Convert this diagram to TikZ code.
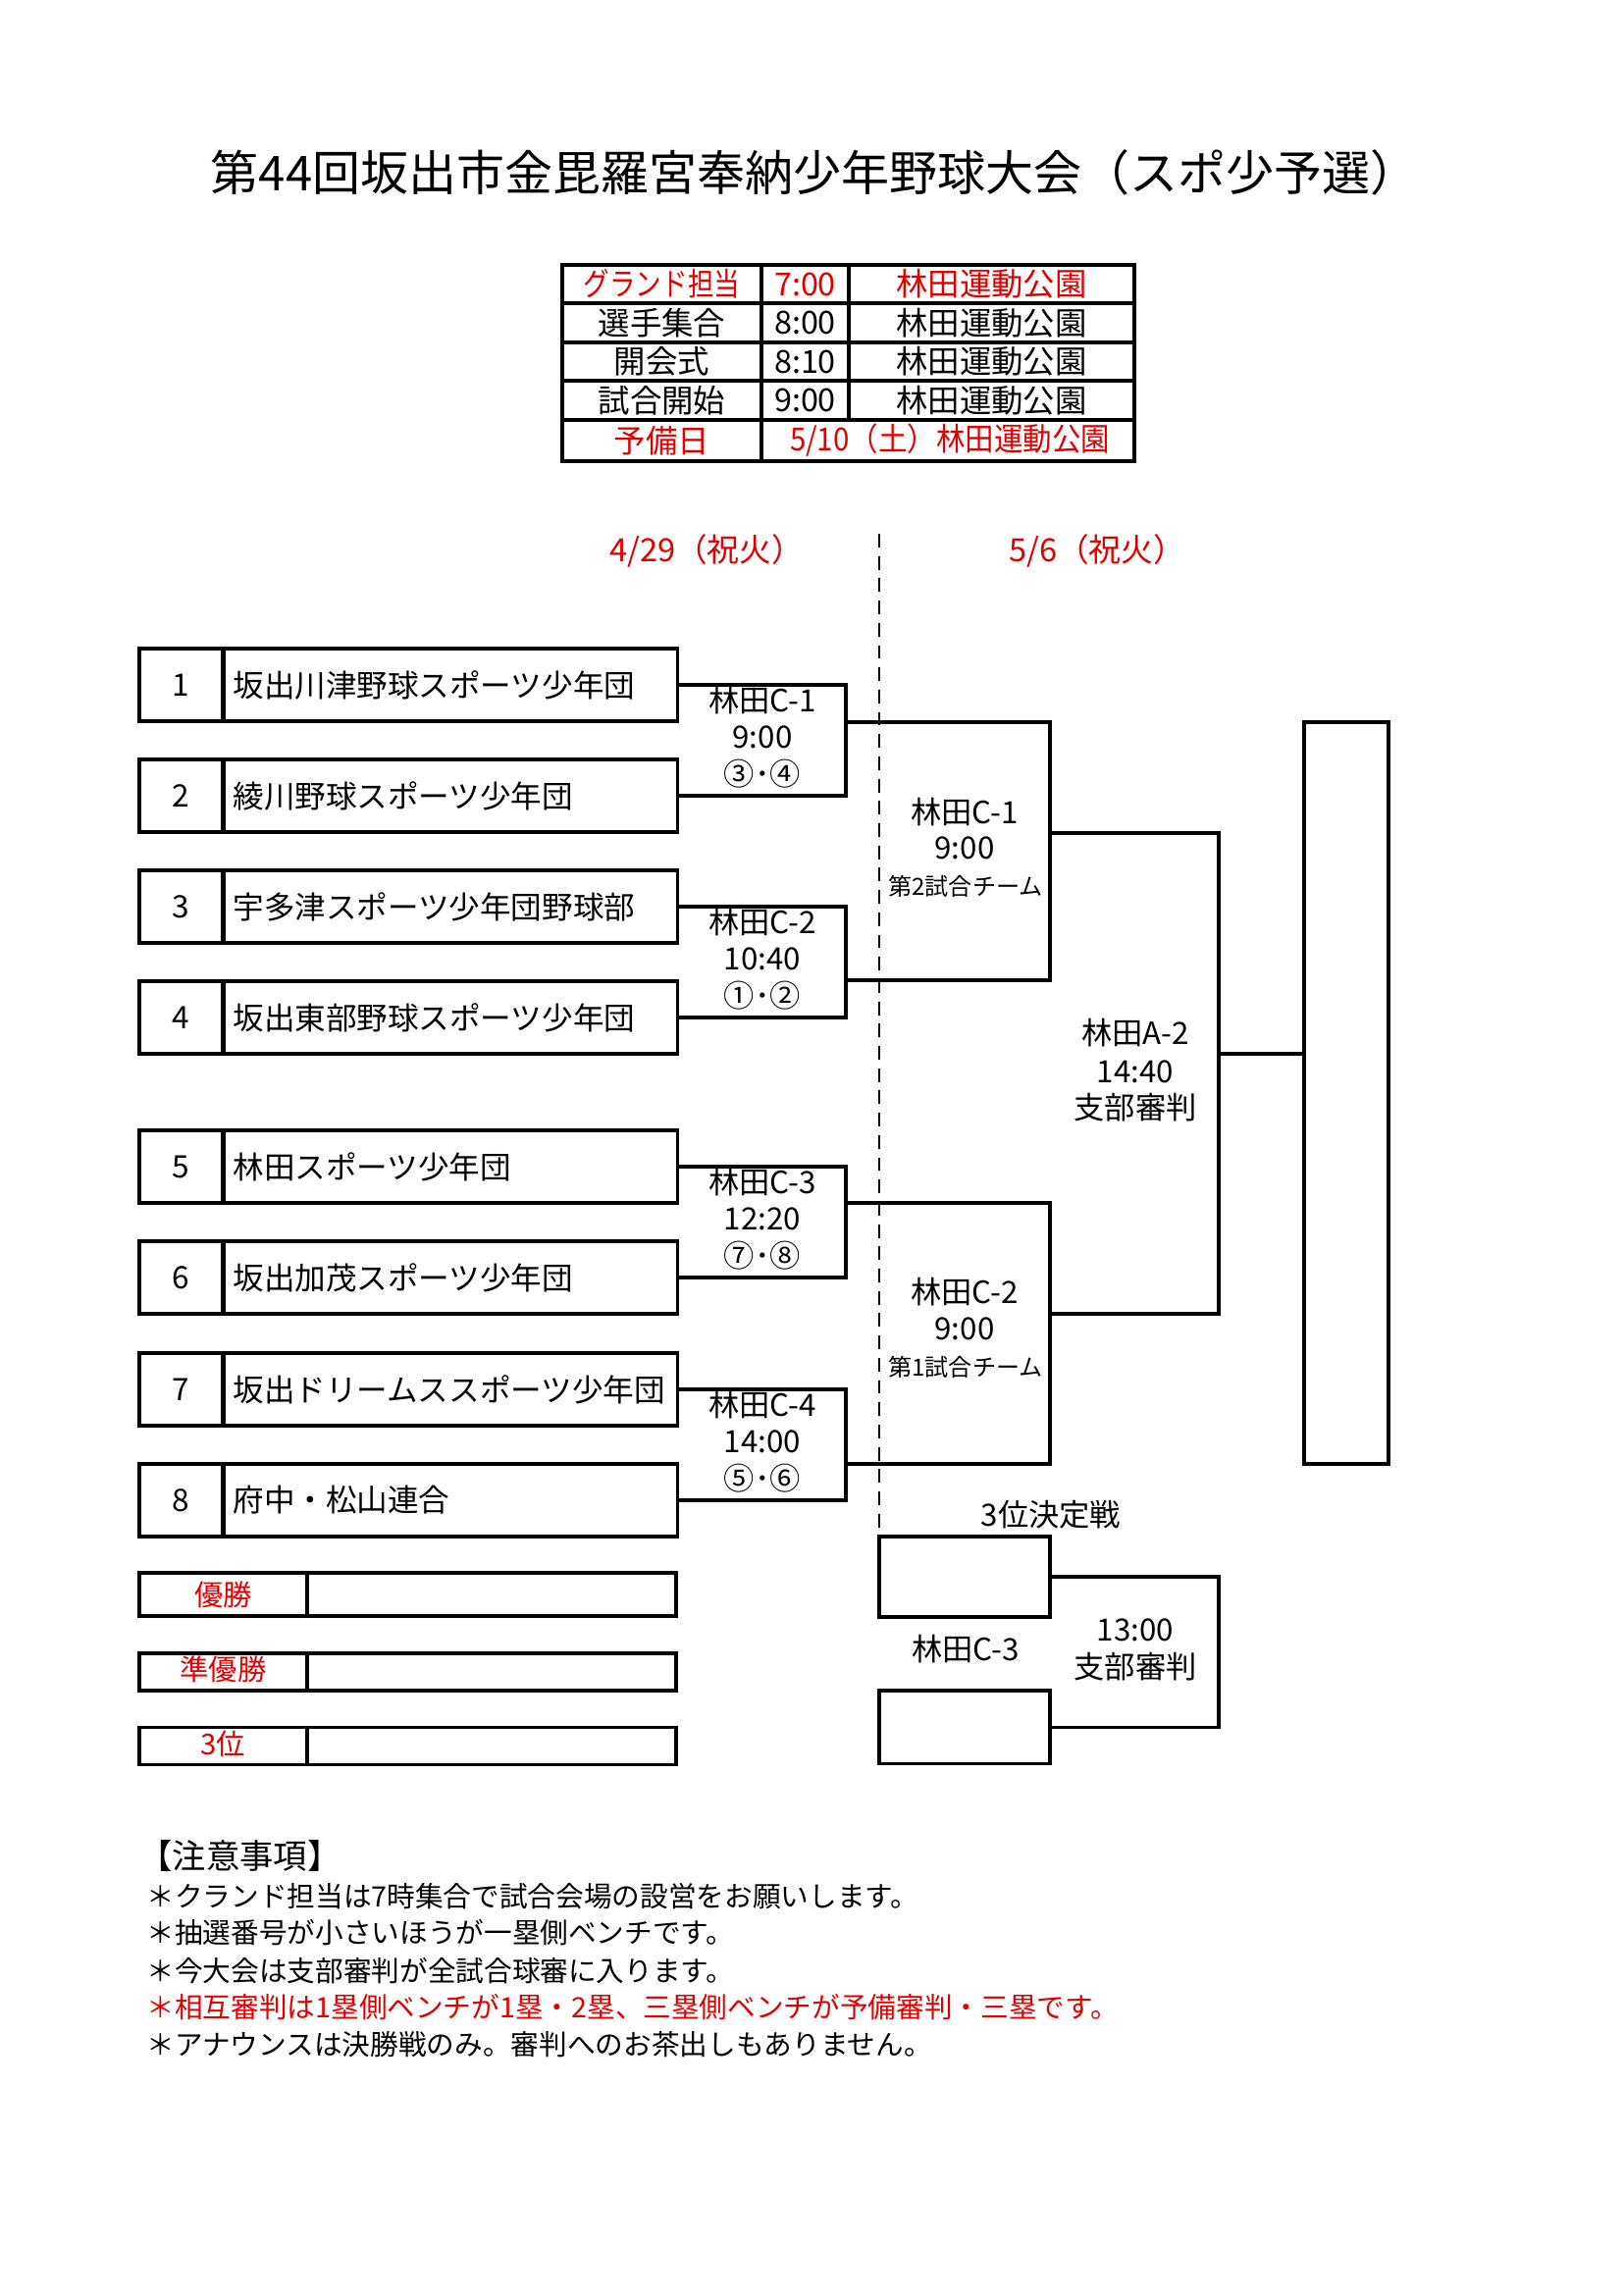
\documentclass[tikz,border=0pt]{standalone}
\usepackage{fontspec}
\usepackage{graphicx}
\newfontfamily\jpf{Noto Sans CJK JP}
\definecolor{jred}{RGB}{225,0,0}
\newlength\px
\setlength\px{0.12697mm}
\tikzset{
  fnt/.style={font=\jpf\fontsize{#1}{#1}\selectfont},
  boxline/.style={line width=1.1pt},
  titletext/.style={fnt=17.7pt, inner sep=0pt},
  tbltext/.style={fnt=11.7pt, inner sep=0pt},
  datetext/.style={fnt=11.8pt, inner sep=0pt, text=jred},
  numcell/.style={draw, boxline, fnt=11.4pt, minimum width=85\px, minimum height=74\px, inner sep=0pt},
  namecell/.style={draw, boxline, fnt=11.4pt, anchor=west, minimum height=74\px, text width=444\px, inner xsep=9\px, inner ysep=0pt, align=left},
  lbl/.style={fnt=11.3pt, inner sep=0pt},
  smalllbl/.style={fnt=8.7pt, inner sep=0pt},
  rescell/.style={draw, boxline, inner sep=0pt},
  restext/.style={fnt=10.6pt, text=jred, inner sep=0pt},
  emptybox/.style={draw, boxline, inner sep=0pt},
  notehead/.style={fnt=12.4pt, anchor=west, inner sep=0pt},
  notetext/.style={fnt=10.35pt, anchor=west, inner sep=0pt},
  dashline/.style={line width=0.8pt, dash pattern=on 5pt off 3.2pt},
}
\begin{document}
\begin{tikzpicture}[x=\px, y=-\px, line join=miter]
\fill[white] (0,0) rectangle (1654,2339);
\useasboundingbox (0,0) rectangle (1654,2339);

% Title
\node[titletext] (title) at (830,176) {第44回坂出市金毘羅宮奉納少年野球大会（スポ少予選）};

% Schedule table
\draw[boxline] (573,270) rectangle (1156,470);
\foreach \yy in {309,349,388,428} { \draw[boxline] (573,\yy) -- (1156,\yy); }
\draw[boxline] (776,270) -- (776,470);
\draw[boxline] (865,270) -- (865,428);
\node[tbltext, text=jred] (r1a) at (674.5,289.5) {\scalebox{0.82}[1]{グランド担当}};
\node[tbltext, text=jred] (r1b) at (820.5,289.5) {7:00};
\node[tbltext, text=jred] (r1c) at (1010.5,289.5) {林田運動公園};
\node[tbltext] (r2a) at (674.5,329) {選手集合};
\node[tbltext] (r2b) at (820.5,329) {8:00};
\node[tbltext] (r2c) at (1010.5,329) {林田運動公園};
\node[tbltext] (r3a) at (674.5,368.5) {開会式};
\node[tbltext] (r3b) at (820.5,368.5) {8:10};
\node[tbltext] (r3c) at (1010.5,368.5) {林田運動公園};
\node[tbltext] (r4a) at (674.5,408) {試合開始};
\node[tbltext] (r4b) at (820.5,408) {9:00};
\node[tbltext] (r4c) at (1010.5,408) {林田運動公園};
\node[tbltext, text=jred] (r5a) at (674.5,449) {予備日};
\node[tbltext, text=jred] (r5b) at (968,449) {\scalebox{0.91}[1]{5/10（土）林田運動公園}};

% Dates
\node[datetext] (d1) at (720,561) {4/29（祝火）};
\node[datetext] (d2) at (1118,561) {5/6（祝火）};

% Dashed divider
\coordinate (dtop) at (896,544);
\coordinate (dbot) at (896,1566);
\draw[dashline] (dtop) -- (dbot);

% Teams
\foreach \i/\yy/\nm in {1/698/坂出川津野球スポーツ少年団, 2/811/綾川野球スポーツ少年団, 3/924/宇多津スポーツ少年団野球部, 4/1037/坂出東部野球スポーツ少年団, 5/1189/林田スポーツ少年団, 6/1302/坂出加茂スポーツ少年団, 7/1416/坂出ドリームススポーツ少年団, 8/1529/府中・松山連合} {
  \node[numcell] (n\i) at (184.5,\yy) {\i};
  \node[namecell] (t\i) at (227,\yy) {\nm};
}

% Round 1 brackets
\coordinate (k1) at (862,750);
\coordinate (k2) at (862,980);
\coordinate (k3) at (862,1245);
\coordinate (k4) at (862,1472);
\draw[boxline] (t1.east) -| (k1) |- (t2.east);
\draw[boxline] (t3.east) -| (k2) |- (t4.east);
\draw[boxline] (t5.east) -| (k3) |- (t6.east);
\draw[boxline] (t7.east) -| (k4) |- (t8.east);

\node[lbl] (l1a) at (777,714) {林田C-1};
\node[lbl] (l1b) at (777,751) {9:00};
\node[lbl] (l1c) at (777,789) {③･④};
\node[lbl] (l2a) at (777,940) {林田C-2};
\node[lbl] (l2b) at (777,977) {10:40};
\node[lbl] (l2c) at (777,1015) {①･②};
\node[lbl] (l3a) at (777,1205) {林田C-3};
\node[lbl] (l3b) at (777,1242) {12:20};
\node[lbl] (l3c) at (777,1280) {⑦･⑧};
\node[lbl] (l4a) at (777,1432) {林田C-4};
\node[lbl] (l4b) at (777,1469) {14:00};
\node[lbl] (l4c) at (777,1507) {⑤･⑥};

% Round 2 boxes
\coordinate (s1a) at (862,736);
\coordinate (s1b) at (862,999);
\coordinate (s1c) at (1070,868);
\draw[boxline] (s1a) -| (s1c) |- (s1b);
\coordinate (s2a) at (862,1226);
\coordinate (s2b) at (862,1492);
\coordinate (s2c) at (1070,1359);
\draw[boxline] (s2a) -| (s2c) |- (s2b);

\node[lbl] (m1a) at (983,828) {林田C-1};
\node[lbl] (m1b) at (983,864) {9:00};
\node[smalllbl] (m1c) at (984,903) {第2試合チーム};
\node[lbl] (m2a) at (983,1317) {林田C-2};
\node[lbl] (m2b) at (983,1354) {9:00};
\node[smalllbl] (m2c) at (984,1393) {第1試合チーム};

% Final bracket
\coordinate (a1) at (1070,849);
\coordinate (a2) at (1070,1339);
\coordinate (ka) at (1242,1074);
\draw[boxline] (a1) -| (ka) |- (a2);
\node[emptybox, minimum width=86\px, minimum height=756\px] (final) at (1372,1114) {};
\draw[boxline] (ka) -- (final.west |- ka);

\node[lbl] (fa) at (1157,1053) {林田A-2};
\node[lbl] (fb) at (1157,1092) {14:40};
\node[lbl] (fc) at (1157,1129) {支部審判};

% Third place
\node[lbl] (third) at (1071,1544) {3位決定戦};
\node[emptybox, minimum width=174\px, minimum height=82\px] (p1) at (983,1607) {};
\node[emptybox, minimum width=174\px, minimum height=74\px] (p2) at (983,1760) {};
\coordinate (c3) at (1242,1680);
\draw[boxline] (p1.east) -| (c3) |- (p2.east);
\node[lbl] (pa) at (984,1681) {林田C-3};
\node[lbl] (pb) at (1157,1661) {13:00};
\node[lbl] (pc) at (1157,1699) {支部審判};

% Results
\node[rescell, minimum width=171\px, minimum height=44\px] (w1) at (227.5,1625) {};
\node[rescell, minimum width=376\px, minimum height=44\px] (v1) at (501,1625) {};
\node[restext] (w1t) at (w1.center) {優勝};
\node[rescell, minimum width=171\px, minimum height=38\px] (w2) at (227.5,1704) {};
\node[rescell, minimum width=376\px, minimum height=38\px] (v2) at (501,1704) {};
\node[restext] (w2t) at (227.5,1701) {準優勝};
\node[rescell, minimum width=171\px, minimum height=38\px] (w3) at (227.5,1779) {};
\node[rescell, minimum width=376\px, minimum height=38\px] (v3) at (501,1779) {};
\node[restext] (w3t) at (227.5,1777) {3位};

% Notes
\node[notehead] (nh) at (141,1891) {【注意事項】};
\node[notetext] (nt1) at (149,1933) {＊クランド担当は7時集合で試合会場の設営をお願いします。};
\node[notetext] (nt2) at (149,1970) {＊抽選番号が小さいほうが一塁側ベンチです。};
\node[notetext] (nt3) at (149,2009) {＊今大会は支部審判が全試合球審に入ります。};
\node[notetext, text=jred] (nt4) at (149,2046) {＊相互審判は1塁側ベンチが1塁・2塁、三塁側ベンチが予備審判・三塁です。};
\node[notetext] (nt5) at (149,2084) {＊アナウンスは決勝戦のみ。審判へのお茶出しもありません。};
\end{tikzpicture}
\end{document}
